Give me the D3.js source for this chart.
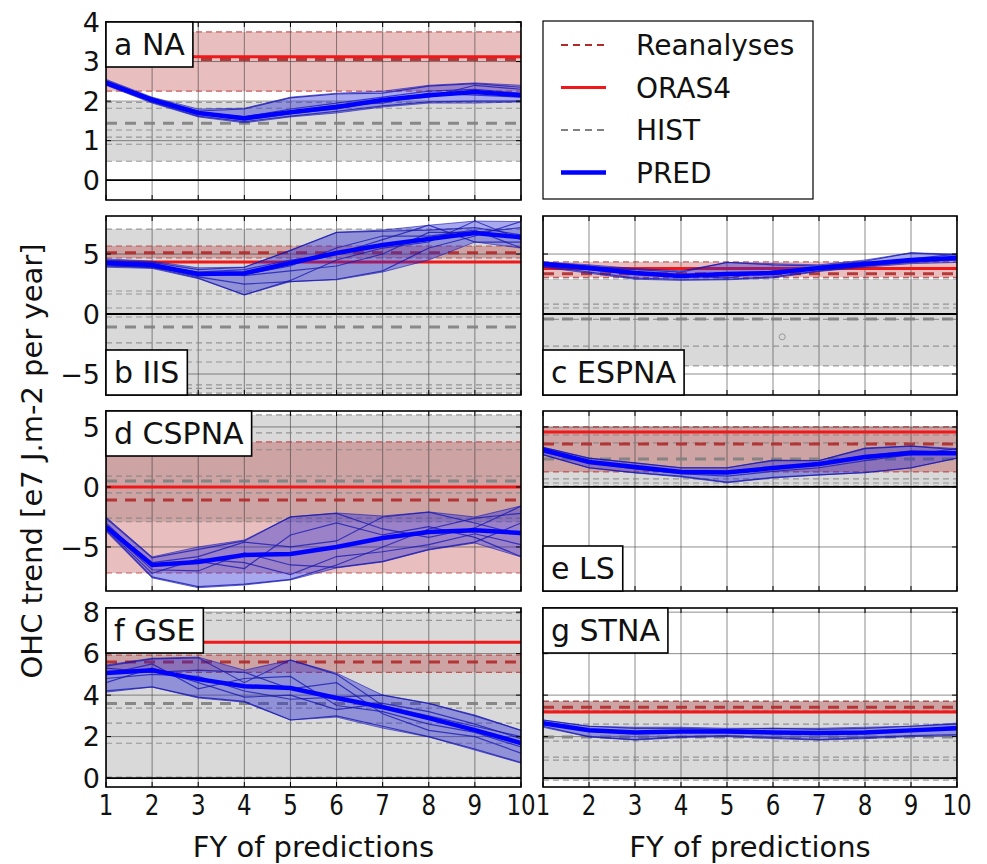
<!DOCTYPE html>
<html lang="en">
<head>
<meta charset="UTF-8">
<script src="https://d3js.org/d3.v7.min.js"></script>
<style>
  body { margin: 0; background: #fff; }
  text { font-family: "DejaVu Sans", sans-serif; fill: #111; }
</style>
</head>
<body>
<script>
// forecast years
const years = [1, 2, 3, 4, 5, 6, 7, 8, 9, 10];

// y ticks per row
const ticksRow0 = [0, 1, 2, 3, 4];
const ticksRow1 = [-5, 0, 5];
const ticksRow2 = [-5, 0, 5];
const ticksRow3 = [0, 2, 4, 6, 8];

// ---- a NA ----
const naPredMean = [2.46, 2.03, 1.70, 1.57, 1.72, 1.85, 2.03, 2.15, 2.23, 2.15];
const naPredHi = [2.55, 2.10, 1.80, 1.82, 2.10, 2.20, 2.25, 2.40, 2.46, 2.40];
const naPredLo = [2.40, 1.95, 1.60, 1.45, 1.60, 1.70, 1.85, 1.95, 1.95, 1.98];
const naMembers = [
  [2.52, 2.08, 1.75, 1.80, 2.08, 2.18, 2.20, 2.38, 2.44, 2.35],
  [2.42, 1.97, 1.62, 1.48, 1.62, 1.74, 1.88, 1.98, 2.00, 2.00],
  [2.48, 2.05, 1.72, 1.60, 1.80, 1.95, 2.10, 2.25, 2.30, 2.20],
  [2.45, 2.00, 1.68, 1.52, 1.68, 1.80, 2.00, 2.10, 2.40, 2.30],
  [2.50, 2.02, 1.70, 1.55, 1.75, 1.90, 1.95, 2.20, 2.15, 2.10]
];
const naHist = [1.97, 1.82, 1.27, 1.09, 0.91, 0.48];
const naHistMean = 1.44;
const naRea = [3.75, 2.25];
const naReaMean = 3.05;
const naOras4 = 3.12;

// ---- b IIS ----
const iisPredMean = [4.25, 4.08, 3.33, 3.40, 4.25, 5.08, 5.75, 6.25, 6.75, 6.40];
const iisPredHi = [4.60, 4.40, 3.85, 3.90, 5.30, 6.80, 7.00, 7.40, 7.75, 7.70];
const iisPredLo = [3.90, 3.80, 2.95, 1.60, 2.70, 2.85, 3.50, 4.50, 6.00, 5.50];
const iisMembers = [
  [4.50, 4.30, 3.70, 3.90, 5.30, 6.80, 6.90, 7.00, 7.20, 6.60],
  [4.00, 3.90, 3.00, 1.60, 2.80, 4.50, 5.50, 6.00, 7.75, 6.20],
  [4.30, 4.00, 3.10, 2.50, 2.70, 2.90, 3.60, 5.50, 6.50, 7.70],
  [4.20, 4.10, 3.50, 3.70, 4.50, 5.00, 6.20, 7.40, 6.00, 6.00],
  [4.40, 4.20, 3.20, 3.30, 4.00, 5.50, 6.50, 6.50, 7.00, 5.50],
  [4.10, 3.85, 3.40, 3.20, 3.60, 4.00, 5.00, 6.80, 6.80, 7.20]
];
const iisHist = [7.08, 1.92, 1.67, 0.50, -0.25, -2.40, -3.00, -4.00, -5.90, -6.20, -6.60];
const iisHistMean = -1.08;
const iisRea = [5.67, 4.67];
const iisReaMean = 5.10;
const iisOras4 = 4.33;

// ---- c ESPNA ----
const espPredMean = [4.17, 3.83, 3.42, 3.17, 3.33, 3.42, 3.83, 4.17, 4.50, 4.67];
const espPredHi = [4.35, 4.10, 3.80, 3.60, 4.30, 4.20, 4.10, 4.50, 5.10, 5.00];
const espPredLo = [3.90, 3.40, 2.90, 2.80, 2.85, 3.00, 3.55, 3.90, 4.20, 4.30];
const espMembers = [
  [4.30, 4.00, 3.70, 3.50, 4.30, 4.10, 4.00, 4.40, 5.10, 4.90],
  [4.00, 3.50, 3.00, 2.90, 2.90, 3.10, 3.60, 4.00, 4.30, 4.50],
  [4.20, 3.90, 3.50, 3.10, 3.20, 3.40, 3.90, 4.20, 4.60, 5.00],
  [4.10, 3.70, 3.30, 3.20, 3.00, 3.60, 3.80, 4.30, 4.40, 4.60]
];
const espHist = [2.92, 0.83, 0.50, -0.45, -2.67, -4.33];
const espHistMean = -0.42;
const espRea = [4.35, 3.05];
const espReaMean = 3.35;
const espOras4 = 3.80;
const espOutlier = [6.2, -1.9];

// ---- d CSPNA ----
const cspPredMean = [-3.33, -6.50, -6.25, -5.67, -5.58, -5.00, -4.25, -3.75, -3.60, -3.83];
const cspPredHi = [-2.50, -5.83, -5.00, -4.42, -2.50, -2.17, -2.42, -2.08, -2.50, -1.58];
const cspPredLo = [-3.70, -7.58, -8.40, -8.17, -7.75, -6.75, -6.25, -5.25, -4.67, -5.83];
const cspMembers = [
  [-2.60, -5.90, -5.20, -4.50, -2.50, -2.20, -3.50, -4.20, -3.40, -1.60],
  [-3.60, -7.50, -8.30, -8.10, -7.70, -6.50, -5.00, -3.50, -2.60, -2.20],
  [-3.20, -6.30, -5.80, -4.60, -5.00, -4.50, -2.50, -2.10, -3.00, -4.00],
  [-3.40, -6.90, -7.00, -5.50, -6.50, -6.70, -6.20, -5.20, -4.60, -3.00],
  [-3.00, -6.60, -6.20, -6.80, -4.00, -3.00, -4.00, -3.30, -4.20, -5.80],
  [-3.50, -7.20, -6.00, -6.30, -7.30, -5.80, -5.40, -4.80, -3.90, -4.80]
];
const cspHist = [6.00, 4.50, 3.10, 0.90, -0.50, -2.60, -2.90];
const cspHistMean = 0.50;
const cspRea = [3.75, -7.17];
const cspReaMean = -1.08;
const cspOras4 = 0.0;

// ---- e LS ----
const lsPredMean = [3.08, 2.08, 1.67, 1.25, 1.20, 1.58, 1.92, 2.50, 2.83, 2.80];
const lsPredHi = [3.30, 2.40, 2.00, 1.60, 1.60, 2.25, 2.20, 3.25, 3.42, 3.20];
const lsPredLo = [2.67, 1.58, 1.17, 0.83, 0.35, 0.75, 1.00, 1.20, 1.58, 2.40];
const lsMembers = [
  [3.30, 2.40, 2.00, 1.60, 1.60, 2.20, 2.20, 3.20, 3.40, 3.10],
  [2.70, 1.60, 1.20, 0.90, 0.40, 0.80, 1.00, 1.20, 1.60, 2.40],
  [3.10, 2.10, 1.70, 1.30, 1.30, 1.60, 2.00, 2.60, 3.00, 2.90],
  [2.90, 2.00, 1.50, 1.10, 0.90, 1.30, 1.60, 2.20, 2.70, 3.20]
];
const lsHist = [5.00, 4.33, 3.67, 0.67, 0.33, 0.08];
const lsHistMean = 2.33;
const lsRea = [5.00, 1.25];
const lsReaMean = 3.58;
const lsOras4 = 4.58;

// ---- f GSE ----
const gsePredMean = [5.06, 5.20, 4.77, 4.43, 4.34, 3.86, 3.42, 2.89, 2.31, 1.69];
const gsePredHi = [5.45, 5.78, 5.83, 5.20, 5.69, 5.06, 4.00, 3.60, 3.04, 2.31];
const gsePredLo = [4.14, 4.39, 3.86, 3.66, 2.80, 2.94, 2.41, 1.98, 1.35, 0.72];
const gseMembers = [
  [5.40, 5.75, 5.80, 4.60, 5.69, 5.00, 3.50, 3.00, 2.50, 2.00],
  [4.20, 4.40, 3.90, 3.70, 2.80, 3.00, 2.50, 2.00, 1.40, 0.75],
  [5.00, 5.50, 4.30, 4.80, 4.90, 3.50, 3.20, 2.60, 2.20, 1.50],
  [4.80, 5.00, 4.90, 4.20, 3.80, 3.90, 4.00, 3.60, 3.00, 2.30],
  [5.30, 5.10, 5.20, 5.10, 4.30, 4.60, 3.10, 2.30, 2.00, 1.20],
  [4.60, 5.30, 4.60, 3.90, 4.00, 3.30, 3.60, 3.20, 2.60, 1.90]
];
const gseHist = [7.95, 7.60, 3.37, 2.65, 1.68, 0.05];
const gseHistMean = 3.60;
const gseRea = [5.93, 5.10];
const gseReaMean = 5.60;
const gseOras4 = 6.55;

// ---- g STNA ----
const stnPredMean = [2.65, 2.31, 2.20, 2.25, 2.25, 2.20, 2.17, 2.20, 2.30, 2.40];
const stnPredHi = [2.80, 2.50, 2.45, 2.45, 2.40, 2.40, 2.40, 2.45, 2.50, 2.65];
const stnPredLo = [2.45, 1.98, 1.83, 1.95, 2.00, 1.90, 1.83, 1.90, 2.00, 2.05];
const stnMembers = [
  [2.80, 2.50, 2.40, 2.40, 2.35, 2.40, 2.35, 2.40, 2.50, 2.60],
  [2.50, 2.00, 1.85, 2.00, 2.05, 1.95, 1.85, 1.95, 2.05, 2.10],
  [2.70, 2.30, 2.20, 2.20, 2.30, 2.20, 2.20, 2.25, 2.30, 2.50]
];
const stnHist = [3.70, 2.60, 1.78, 1.01, 0.87, -0.10];
const stnHistMean = 1.98;
const stnRea = [3.71, 3.23];
const stnReaMean = 3.42;
const stnOras4 = 3.18;

const legendLabels = ["Reanalyses", "ORAS4", "HIST", "PRED"];

// ---------- layout ----------
const width = 987, height = 864;
const svg = d3.select("body").append("svg").attr("width", width).attr("height", height);

const cols = [[106, 521], [543, 957]];
const rows = [
  { y: [200, 22], domain: [-0.5, 4], ticks: ticksRow0 },
  { y: [395, 216], domain: [-6.75, 8.17], ticks: ticksRow1 },
  { y: [591, 411], domain: [-8.67, 6.33], ticks: ticksRow2 },
  { y: [787, 608], domain: [-0.43, 8.2], ticks: ticksRow3 }
];

const panels = [
  { id: "a", name: "a NA", col: 0, row: 0, corner: "top", mean: naPredMean, hi: naPredHi, lo: naPredLo, members: naMembers, hist: naHist, histMean: naHistMean, rea: naRea, reaMean: naReaMean, oras: naOras4 },
  { id: "b", name: "b IIS", col: 0, row: 1, corner: "bottom", mean: iisPredMean, hi: iisPredHi, lo: iisPredLo, members: iisMembers, hist: iisHist, histMean: iisHistMean, rea: iisRea, reaMean: iisReaMean, oras: iisOras4 },
  { id: "c", name: "c ESPNA", col: 1, row: 1, corner: "bottom", mean: espPredMean, hi: espPredHi, lo: espPredLo, members: espMembers, hist: espHist, histMean: espHistMean, rea: espRea, reaMean: espReaMean, oras: espOras4, outlier: espOutlier },
  { id: "d", name: "d CSPNA", col: 0, row: 2, corner: "top", mean: cspPredMean, hi: cspPredHi, lo: cspPredLo, members: cspMembers, hist: cspHist, histMean: cspHistMean, rea: cspRea, reaMean: cspReaMean, oras: cspOras4 },
  { id: "e", name: "e LS", col: 1, row: 2, corner: "bottom", mean: lsPredMean, hi: lsPredHi, lo: lsPredLo, members: lsMembers, hist: lsHist, histMean: lsHistMean, rea: lsRea, reaMean: lsReaMean, oras: lsOras4 },
  { id: "f", name: "f GSE", col: 0, row: 3, corner: "top", mean: gsePredMean, hi: gsePredHi, lo: gsePredLo, members: gseMembers, hist: gseHist, histMean: gseHistMean, rea: gseRea, reaMean: gseReaMean, oras: gseOras4 },
  { id: "g", name: "g STNA", col: 1, row: 3, corner: "top", mean: stnPredMean, hi: stnPredHi, lo: stnPredLo, members: stnMembers, hist: stnHist, histMean: stnHistMean, rea: stnRea, reaMean: stnReaMean, oras: stnOras4 }
];

const redFill = "rgb(180,40,40)", reaColor = "#b22a2a", orasColor = "#f01818";
const histColor = "#808080", blue = "#0000ff";

panels.forEach(p => {
  const r = rows[p.row];
  const x = d3.scaleLinear().domain([1, 10]).range(cols[p.col]);
  const y = d3.scaleLinear().domain(r.domain).range(r.y);
  const [x0, x1] = cols[p.col];
  const [yb, yt] = r.y;

  svg.append("clipPath").attr("id", "clip-" + p.id)
    .append("rect").attr("x", x0).attr("y", yt).attr("width", x1 - x0).attr("height", yb - yt);

  const g = svg.append("g").attr("clip-path", `url(#clip-${p.id})`);
  const hline = (v, color, w, dash, op) => g.append("line")
    .attr("x1", x0).attr("x2", x1).attr("y1", y(v)).attr("y2", y(v))
    .attr("stroke", color).attr("stroke-width", w)
    .attr("stroke-dasharray", dash).attr("opacity", op);

  // HIST band
  g.append("rect").attr("x", x0).attr("width", x1 - x0)
    .attr("y", y(d3.max(p.hist))).attr("height", y(d3.min(p.hist)) - y(d3.max(p.hist)))
    .attr("fill", histColor).attr("opacity", 0.3);
  // Reanalyses band
  g.append("rect").attr("x", x0).attr("width", x1 - x0)
    .attr("y", y(d3.max(p.rea))).attr("height", y(d3.min(p.rea)) - y(d3.max(p.rea)))
    .attr("fill", redFill).attr("opacity", 0.3);

  // grid
  g.selectAll(".vg").data(years).join("line")
    .attr("x1", d => x(d)).attr("x2", d => x(d)).attr("y1", yt).attr("y2", yb)
    .attr("stroke", "#333").attr("stroke-width", 1).attr("opacity", 0.55);
  g.selectAll(".hg").data(r.ticks).join("line")
    .attr("x1", x0).attr("x2", x1).attr("y1", d => y(d)).attr("y2", d => y(d))
    .attr("stroke", "#333").attr("stroke-width", 1).attr("opacity", 0.55);

  // HIST members + mean
  p.hist.forEach(v => hline(v, histColor, 1.2, "6,4", 0.75));
  hline(p.histMean, histColor, 3, "11,8", 0.9);

  // zero line
  hline(0, "#000", 1.8, null, 1);

  // Reanalyses spread + mean
  p.rea.forEach(v => hline(v, reaColor, 1.2, "6,4", 0.7));
  hline(p.oras, orasColor, 3, null, 1);
  hline(p.reaMean, reaColor, 3, "11,8", 0.9);

  if (p.outlier) {
    g.append("circle").attr("cx", x(p.outlier[0])).attr("cy", y(p.outlier[1])).attr("r", 3)
      .attr("fill", "none").attr("stroke", "#999").attr("stroke-width", 1);
  }

  // PRED
  const area = d3.area().x((d, i) => x(years[i])).y0((d, i) => y(p.lo[i])).y1((d, i) => y(p.hi[i]));
  g.append("path").attr("d", area(p.hi)).attr("fill", "#2525d8").attr("opacity", 0.4);
  const line = d3.line().x((d, i) => x(years[i])).y(d => y(d));
  p.members.forEach(m => g.append("path").attr("d", line(m))
    .attr("fill", "none").attr("stroke", "#1515b0").attr("stroke-width", 1.2).attr("opacity", 0.75));
  g.append("path").attr("d", line(p.hi)).attr("fill", "none").attr("stroke", "#1515b0").attr("stroke-width", 1).attr("opacity", 0.6);
  g.append("path").attr("d", line(p.lo)).attr("fill", "none").attr("stroke", "#1515b0").attr("stroke-width", 1).attr("opacity", 0.6);
  g.append("path").attr("d", line(p.mean)).attr("fill", "none").attr("stroke", blue).attr("stroke-width", 4.5);

  // inward ticks
  const t = svg.append("g").attr("stroke", "#000").attr("stroke-width", 1);
  r.ticks.forEach(v => {
    t.append("line").attr("x1", x0).attr("x2", x0 + 5).attr("y1", y(v)).attr("y2", y(v));
    t.append("line").attr("x1", x1).attr("x2", x1 - 5).attr("y1", y(v)).attr("y2", y(v));
  });
  years.forEach(v => {
    t.append("line").attr("x1", x(v)).attr("x2", x(v)).attr("y1", yb).attr("y2", yb - 5);
    t.append("line").attr("x1", x(v)).attr("x2", x(v)).attr("y1", yt).attr("y2", yt + 5);
  });

  // frame
  svg.append("rect").attr("x", x0).attr("y", yt).attr("width", x1 - x0).attr("height", yb - yt)
    .attr("fill", "none").attr("stroke", "#000").attr("stroke-width", 1.6);

  // y tick labels (left column)
  if (p.col === 0) {
    svg.append("g").selectAll("text").data(r.ticks).join("text")
      .attr("x", x0 - 6).attr("y", d => y(d)).attr("dy", "0.36em")
      .attr("text-anchor", "end").style("font-size", "27px")
      .text(d => d < 0 ? "\u2212" + Math.abs(d) : d);
  }
  // x tick labels (bottom row), slightly condensed like the original
  if (p.row === 3) {
    svg.append("g").selectAll("text").data(years).join("text")
      .attr("transform", d => `translate(${x(d)},${yb + 28}) scale(0.82,1)`)
      .attr("text-anchor", "middle").style("font-size", "28px").text(d => d);
    svg.append("text").attr("x", (x0 + x1) / 2).attr("y", 857)
      .attr("text-anchor", "middle").style("font-size", "29px").text("FY of predictions");
  }

  // panel label box
  const lab = svg.append("g");
  const txt = lab.append("text").style("font-size", "30px").text(p.name);
  const tw = txt.node().getComputedTextLength();
  const bh = 45, bw = tw + 16;
  const by = p.corner === "top" ? yt : yb - bh;
  lab.insert("rect", "text").attr("x", x0).attr("y", by).attr("width", bw).attr("height", bh)
    .attr("fill", "#fff").attr("stroke", "#000").attr("stroke-width", 1.6);
  txt.attr("x", x0 + 8).attr("y", by + bh / 2).attr("dy", "0.36em");
});

// y axis label
svg.append("text")
  .attr("transform", "translate(42,461) rotate(-90)")
  .attr("text-anchor", "middle").style("font-size", "29px")
  .text("OHC trend [e7 J.m-2 per year]");

// legend
const legend = svg.append("g");
legend.append("rect").attr("x", 543).attr("y", 21).attr("width", 270).attr("height", 178)
  .attr("fill", "#fff").attr("stroke", "#000").attr("stroke-width", 1.2);
const legendStyles = [
  { color: reaColor, w: 2.2, dash: "7,5" },
  { color: orasColor, w: 3, dash: null },
  { color: histColor, w: 2.2, dash: "7,5" },
  { color: blue, w: 4.5, dash: null }
];
legendLabels.forEach((name, i) => {
  const ly = 45 + i * 42.5;
  legend.append("line").attr("x1", 561).attr("x2", 606).attr("y1", ly).attr("y2", ly)
    .attr("stroke", legendStyles[i].color).attr("stroke-width", legendStyles[i].w)
    .attr("stroke-dasharray", legendStyles[i].dash);
  legend.append("text").attr("x", 636).attr("y", ly).attr("dy", "0.36em")
    .style("font-size", "28px").text(name);
});
</script>
</body>
</html>
